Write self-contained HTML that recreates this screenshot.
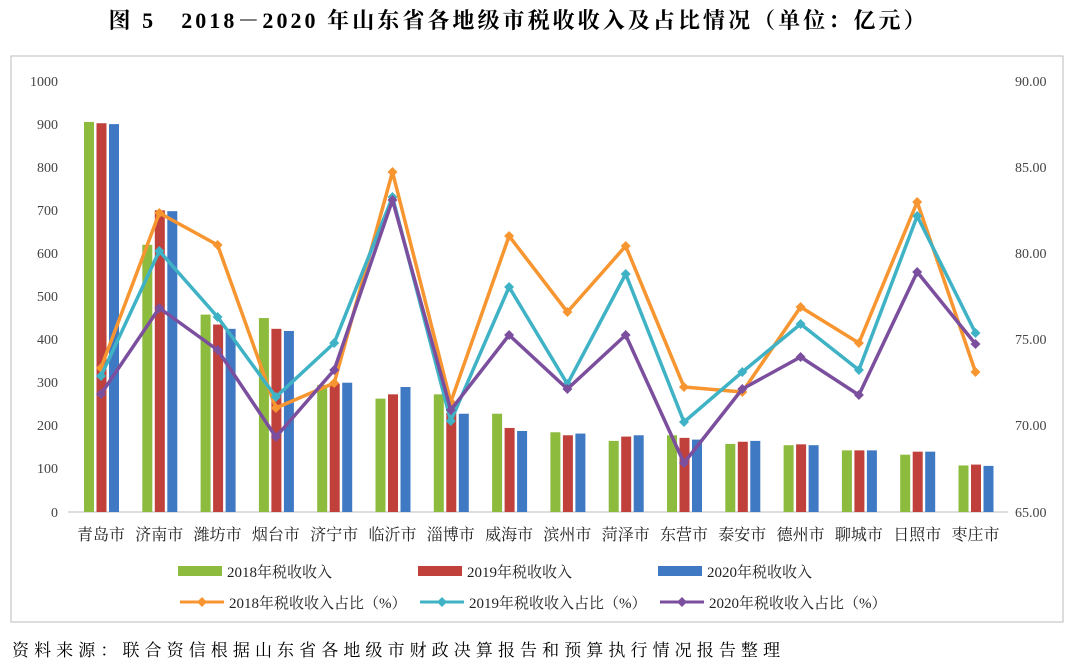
<!DOCTYPE html>
<html><head><meta charset="utf-8"><style>
body{margin:0;background:#fff;width:1080px;height:667px;overflow:hidden}
svg{display:block}
text{font-family:"Liberation Serif","Noto Serif CJK SC",serif}
</style></head><body>
<svg width="1080" height="667" viewBox="0 0 1080 667" xmlns="http://www.w3.org/2000/svg">
<text x="517" y="28" text-anchor="middle" font-size="22" font-weight="bold" fill="#000" textLength="817" lengthAdjust="spacing">图 5　2018－2020 年山东省各地级市税收收入及占比情况（单位：亿元）</text>
<rect x="11" y="56" width="1052" height="566" fill="none" stroke="#bbb" stroke-width="1"/>
<g font-size="14" fill="#444">
<text x="58" y="86" text-anchor="end">1000</text>
<text x="58" y="129" text-anchor="end">900</text>
<text x="58" y="172" text-anchor="end">800</text>
<text x="58" y="215" text-anchor="end">700</text>
<text x="58" y="258" text-anchor="end">600</text>
<text x="58" y="301" text-anchor="end">500</text>
<text x="58" y="344" text-anchor="end">400</text>
<text x="58" y="387" text-anchor="end">300</text>
<text x="58" y="430" text-anchor="end">200</text>
<text x="58" y="473" text-anchor="end">100</text>
<text x="58" y="517" text-anchor="end">0</text>
<text x="1015" y="86">90.00</text>
<text x="1015" y="172">85.00</text>
<text x="1015" y="258">80.00</text>
<text x="1015" y="344">75.00</text>
<text x="1015" y="430">70.00</text>
<text x="1015" y="517">65.00</text>
</g>
<line x1="68" y1="512" x2="1008" y2="512" stroke="#bbb"/>
<g id="bars"></g>
<g id="lines"></g>
<g font-size="16" fill="#222" id="cats"></g>
<g font-size="15" fill="#222">
<rect x="178" y="566" width="44" height="10" fill="#8dbb3e"/><text x="227" y="577">2018年税收收入</text>
<rect x="418" y="566" width="44" height="10" fill="#c0413b"/><text x="467" y="577">2019年税收收入</text>
<rect x="658" y="566" width="44" height="10" fill="#3f79c4"/><text x="707" y="577">2020年税收收入</text>
<line x1="180" y1="602" x2="224" y2="602" stroke="#f79530" stroke-width="3"/><path d="M202 597l5 5-5 5-5-5z" fill="#f79530"/><text x="229" y="608">2018年税收收入占比（%）</text>
<line x1="420" y1="602" x2="464" y2="602" stroke="#3fb3c5" stroke-width="3"/><path d="M442 597l5 5-5 5-5-5z" fill="#3fb3c5"/><text x="469" y="608">2019年税收收入占比（%）</text>
<line x1="660" y1="602" x2="704" y2="602" stroke="#7b4f9e" stroke-width="3"/><path d="M682 597l5 5-5 5-5-5z" fill="#7b4f9e"/><text x="709" y="608">2020年税收收入占比（%）</text>
</g>
<text x="12" y="656" font-size="17" fill="#000" textLength="768" lengthAdjust="spacing">资料来源：联合资信根据山东省各地级市财政决算报告和预算执行情况报告整理</text>
<script>
var ns="http://www.w3.org/2000/svg";
var cats=["青岛市","济南市","潍坊市","烟台市","济宁市","临沂市","淄博市","威海市","滨州市","菏泽市","东营市","泰安市","德州市","聊城市","日照市","枣庄市"];
var b=[[905,902,900],[620,700,698],[458,435,425],[450,425,420],[295,298,300],[263,273,290],[273,230,228],[228,195,188],[185,178,182],[165,175,178],[178,172,168],[158,163,165],[155,157,155],[143,143,143],[133,140,140],[108,110,107]];
var L=[[368,213,245,408,383,172,402,236,312,246,387,392,307,343,202,372],
[376,251,317,397,343,197,421,287,384,274,422,372,324,370,216,333],
[394,308,350,437,370,200,410,335,389,335,463,389,357,395,272,344]];
var cols=["#8dbb3e","#c0413b","#3f79c4"],lc=["#f79530","#3fb3c5","#7b4f9e"];
function cx(i){return 101+i*58.3}
function el(t,a,p){var e=document.createElementNS(ns,t);for(var k in a)e.setAttribute(k,a[k]);document.getElementById(p).appendChild(e);return e}
for(var i=0;i<16;i++){for(var j=0;j<3;j++){var h=b[i][j]*0.431;el("rect",{x:cx(i)-17+j*12.5,y:512-h,width:10,height:h,fill:cols[j]},"bars")}
var t=el("text",{x:cx(i),y:540,"text-anchor":"middle"},"cats");t.textContent=cats[i];}
for(var j=0;j<3;j++){var pts=L[j].map(function(y,i){return cx(i)+","+y}).join(" ");
el("polyline",{points:pts,fill:"none",stroke:lc[j],"stroke-width":3.5,"stroke-linejoin":"round"},"lines");
L[j].forEach(function(y,i){var x=cx(i);el("path",{d:"M"+x+" "+(y-5)+"l5 5-5 5-5-5z",fill:lc[j]},"lines")})}
</script>
</svg>
</body></html>
